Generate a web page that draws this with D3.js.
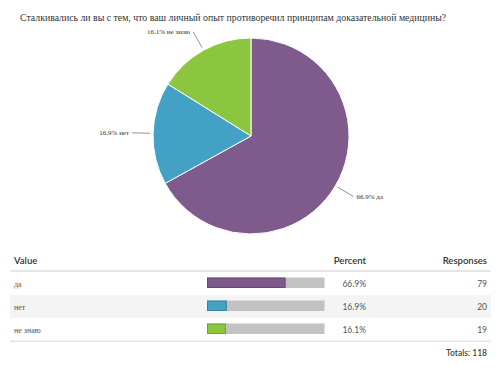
<!DOCTYPE html>
<html lang="ru">
<head>
<meta charset="UTF-8">
<title>Pie and table</title>
<script src="https://d3js.org/d3.v7.min.js"></script>
<style>
  body { margin: 0; background: #fff; }
  svg { display: block; }
</style>
</head>
<body>
<div id="chart"></div>
<script>
const width = 500;
const height = 375;

const title = "Сталкивались ли вы с тем, что ваш личный опыт противоречил принципам доказательной медицины?";
const categories = ["да", "нет", "не знаю"];
const responses = [79, 20, 19];
const percents = [66.9, 16.9, 16.1];
const colors = ["#7e5a8d", "#43a1c5", "#8cc63f"];
const headers = ["Value", "Percent", "Responses"];

const total = d3.sum(responses);
const rows = categories.map((c, i) => ({ name: c, value: responses[i], pct: percents[i], color: colors[i] }));

const serif = "'Liberation Serif', 'Times New Roman', serif";
const sans = "Lato, 'Open Sans', sans-serif";

const svg = d3.select("#chart").append("svg")
  .attr("width", width)
  .attr("height", height);

// title - shrink font until it spans the same width as the reference
const titleText = svg.append("text")
  .attr("x", 20)
  .attr("y", 21)
  .style("font-family", serif)
  .attr("font-size", 11)
  .attr("fill", "#333")
  .text(title);
const tw = titleText.node().getComputedTextLength();
titleText.attr("font-size", 11 * 427 / tw);

// pie
const cx = 251, cy = 136, r = 98;
const pie = d3.pie().sort(null).value(d => d.pct);
const arc = d3.arc().innerRadius(0).outerRadius(r);
const arcs = pie(rows);

const g = svg.append("g").attr("transform", `translate(${cx},${cy})`);

g.selectAll("path.slice")
  .data(arcs)
  .enter()
  .append("path")
  .attr("class", "slice")
  .attr("d", arc)
  .attr("fill", d => d.data.color)
  .attr("stroke", "#fff")
  .attr("stroke-width", 1);

const mid = d => (d.startAngle + d.endAngle) / 2;
const pt = (a, rr) => [Math.sin(a) * rr, -Math.cos(a) * rr];

g.selectAll("line.leader")
  .data(arcs)
  .enter()
  .append("line")
  .attr("class", "leader")
  .attr("x1", d => pt(mid(d), r + 3)[0])
  .attr("y1", d => pt(mid(d), r + 3)[1])
  .attr("x2", d => pt(mid(d), r + 21)[0])
  .attr("y2", d => pt(mid(d), r + 21)[1])
  .attr("stroke", "#777")
  .attr("stroke-width", 0.8);

g.selectAll("text.lbl")
  .data(arcs)
  .enter()
  .append("text")
  .attr("class", "lbl")
  .attr("x", d => {
    const p = pt(mid(d), r + 21);
    return Math.sin(mid(d)) > 0 ? p[0] + 3 : p[0] - 3;
  })
  .attr("y", d => pt(mid(d), r + 21)[1] + 2.5)
  .attr("text-anchor", d => Math.sin(mid(d)) > 0 ? "start" : "end")
  .style("font-family", serif)
  .attr("font-size", 7)
  .attr("fill", "#333")
  .text(d => d.data.pct.toFixed(1) + "% " + d.data.name);

// table
const tLeft = 10, tRight = 491;
const textLeft = 14, pctRight = 366, respRight = 487;
const headerY = 264, lineY = 271, rowH = 23;

const table = svg.append("g");

table.selectAll("text.head")
  .data(headers)
  .enter()
  .append("text")
  .attr("class", "head")
  .attr("x", (d, i) => [textLeft, pctRight, respRight][i])
  .attr("y", headerY)
  .attr("text-anchor", (d, i) => i === 0 ? "start" : "end")
  .style("font-family", sans)
  .attr("font-size", 9.5)
  .attr("font-weight", 600)
  .attr("fill", "#333")
  .text(d => d);

table.append("rect")
  .attr("x", tLeft).attr("y", lineY - 1)
  .attr("width", tRight - tLeft).attr("height", 2)
  .attr("fill", "#e6e6e6");

const rowY = i => lineY + 1 + i * rowH;

const rowG = table.selectAll("g.row")
  .data(rows)
  .enter()
  .append("g")
  .attr("class", "row")
  .attr("transform", (d, i) => `translate(0,${rowY(i)})`);

rowG.append("rect")
  .attr("x", tLeft).attr("y", 0)
  .attr("width", tRight - tLeft).attr("height", rowH)
  .attr("fill", (d, i) => i % 2 === 1 ? "#f4f4f4" : "#fff");

rowG.append("text")
  .attr("x", textLeft)
  .attr("y", 14.5)
  .style("font-family", serif)
  .attr("font-size", 8)
  .attr("fill", "#555")
  .text(d => d.name);

const bx = d3.scaleLinear().domain([0, 100]).range([207, 324.5]);

rowG.append("rect")
  .attr("x", bx(0)).attr("y", 5.5)
  .attr("width", bx(100) - bx(0)).attr("height", 10.5)
  .attr("fill", "#c2c2c2");

rowG.append("rect")
  .attr("x", bx(0) + 0.5).attr("y", 6)
  .attr("width", d => bx(d.pct) - bx(0) - 1).attr("height", 9.5)
  .attr("fill", d => d.color)
  .attr("stroke", d => d3.color(d.color).darker(0.6))
  .attr("stroke-width", 1);

rowG.append("text")
  .attr("x", pctRight)
  .attr("y", 14.5)
  .attr("text-anchor", "end")
  .style("font-family", sans)
  .attr("font-size", 8.5)
  .attr("fill", "#555")
  .text(d => d.pct.toFixed(1) + "%");

rowG.append("text")
  .attr("x", respRight)
  .attr("y", 14.5)
  .attr("text-anchor", "end")
  .style("font-family", sans)
  .attr("font-size", 8.5)
  .attr("fill", "#555")
  .text(d => d.value);

const bottomY = rowY(rows.length);
table.append("rect")
  .attr("x", tLeft).attr("y", bottomY - 0.5)
  .attr("width", tRight - tLeft).attr("height", 1.5)
  .attr("fill", "#e6e6e6");

table.append("text")
  .attr("x", respRight)
  .attr("y", bottomY + 15)
  .attr("text-anchor", "end")
  .style("font-family", sans)
  .attr("font-size", 8.5)
  .attr("font-weight", 600)
  .attr("fill", "#444")
  .text("Totals: " + total);
</script>
</body>
</html>
